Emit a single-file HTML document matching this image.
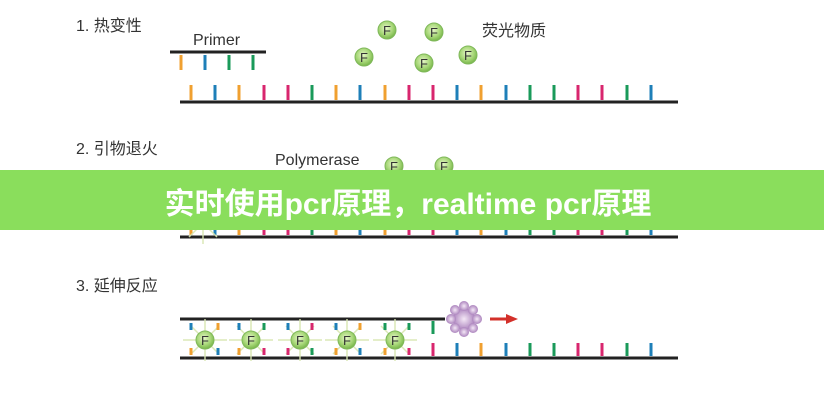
<!DOCTYPE html>
<html><head><meta charset="utf-8"><style>
html,body{margin:0;padding:0;background:#fff;}
svg{display:block;}
</style></head><body>
<svg width="824" height="400" xmlns="http://www.w3.org/2000/svg" font-family="Liberation Sans, Noto Sans CJK SC, sans-serif">
<defs>
<radialGradient id="fg" cx="45%" cy="40%" r="60%"><stop offset="0" stop-color="#e6f6c8"/><stop offset="0.6" stop-color="#a9d87a"/><stop offset="1" stop-color="#78b64a"/></radialGradient>
<radialGradient id="pg" cx="50%" cy="50%" r="55%"><stop offset="0" stop-color="#f4e8f6"/><stop offset="1" stop-color="#a57ab8"/></radialGradient>
<g id="F"><circle r="9" fill="url(#fg)" stroke="#7fb85a" stroke-width="1"/><text y="5" text-anchor="middle" font-size="13" fill="#333">F</text></g>
<g id="star" stroke="#d8e6b0" stroke-width="1.5" opacity="0.9"><line x1="-22" y1="0" x2="22" y2="0"/><line x1="0" y1="-21" x2="0" y2="21"/><line x1="-14" y1="-14" x2="14" y2="14"/><line x1="-14" y1="14" x2="14" y2="-14"/></g>
</defs>
<g font-size="16" fill="#333">
<text x="76" y="31">1. 热变性</text>
<text x="76" y="154">2. 引物退火</text>
<text x="76" y="291">3. 延伸反应</text>
</g>
<!-- Row 1 -->
<text x="193" y="45" font-size="16" fill="#333">Primer</text>
<line x1="170" y1="52" x2="266" y2="52" stroke="#222" stroke-width="3"/>
<g stroke-width="3"><line x1="181" y1="55" x2="181" y2="70" stroke="#f0a030"/><line x1="205" y1="55" x2="205" y2="70" stroke="#1e7fb8"/><line x1="229" y1="55" x2="229" y2="70" stroke="#1a9a5a"/><line x1="253" y1="55" x2="253" y2="70" stroke="#1a9a5a"/></g>
<text x="482" y="36" font-size="16" fill="#333">荧光物质</text>
<use href="#F" x="387" y="30"/><use href="#F" x="434" y="32"/><use href="#F" x="364" y="57"/><use href="#F" x="424" y="63"/><use href="#F" x="468" y="55"/>
<line x1="180" y1="102" x2="678" y2="102" stroke="#222" stroke-width="3"/>
<g stroke-width="3" id="ticks1">
<line x1="191" y1="85" x2="191" y2="100" stroke="#f0a030"/><line x1="215" y1="85" x2="215" y2="100" stroke="#1e7fb8"/><line x1="239" y1="85" x2="239" y2="100" stroke="#f0a030"/><line x1="264" y1="85" x2="264" y2="100" stroke="#d8266e"/><line x1="288" y1="85" x2="288" y2="100" stroke="#d8266e"/><line x1="312" y1="85" x2="312" y2="100" stroke="#1a9a5a"/><line x1="336" y1="85" x2="336" y2="100" stroke="#f0a030"/><line x1="360" y1="85" x2="360" y2="100" stroke="#1e7fb8"/><line x1="385" y1="85" x2="385" y2="100" stroke="#f0a030"/><line x1="409" y1="85" x2="409" y2="100" stroke="#d8266e"/><line x1="433" y1="85" x2="433" y2="100" stroke="#d8266e"/><line x1="457" y1="85" x2="457" y2="100" stroke="#1e7fb8"/><line x1="481" y1="85" x2="481" y2="100" stroke="#f0a030"/><line x1="506" y1="85" x2="506" y2="100" stroke="#1e7fb8"/><line x1="530" y1="85" x2="530" y2="100" stroke="#1a9a5a"/><line x1="554" y1="85" x2="554" y2="100" stroke="#1a9a5a"/><line x1="578" y1="85" x2="578" y2="100" stroke="#d8266e"/><line x1="602" y1="85" x2="602" y2="100" stroke="#d8266e"/><line x1="627" y1="85" x2="627" y2="100" stroke="#1a9a5a"/><line x1="651" y1="85" x2="651" y2="100" stroke="#1e7fb8"/>
</g>
<!-- Row 2 -->
<text x="275" y="165" font-size="16" fill="#333">Polymerase</text>
<use href="#F" x="394" y="166"/><use href="#F" x="444" y="166"/>
<use href="#ticks1" transform="translate(0,135)"/>
<line x1="180" y1="237" x2="678" y2="237" stroke="#222" stroke-width="3"/>
<use href="#star" x="203" y="223"/>
<!-- banner -->
<rect x="0" y="170" width="824" height="60" fill="#8ade5c"/>
<text x="408" y="214" text-anchor="middle" font-size="30" font-weight="bold" fill="#fff">实时使用pcr原理，realtime pcr原理</text>
<!-- Row 3 -->
<line x1="180" y1="319" x2="445" y2="319" stroke="#222" stroke-width="3"/>
<line x1="180" y1="358" x2="678" y2="358" stroke="#222" stroke-width="3"/>
<g stroke-width="3">
<line x1="433" y1="321" x2="433" y2="334" stroke="#1a9a5a"/>
<line x1="433" y1="343" x2="433" y2="356" stroke="#d8266e"/><line x1="457" y1="343" x2="457" y2="356" stroke="#1e7fb8"/><line x1="481" y1="343" x2="481" y2="356" stroke="#f0a030"/><line x1="506" y1="343" x2="506" y2="356" stroke="#1e7fb8"/><line x1="530" y1="343" x2="530" y2="356" stroke="#1a9a5a"/><line x1="554" y1="343" x2="554" y2="356" stroke="#1a9a5a"/><line x1="578" y1="343" x2="578" y2="356" stroke="#d8266e"/><line x1="602" y1="343" x2="602" y2="356" stroke="#d8266e"/><line x1="627" y1="343" x2="627" y2="356" stroke="#1a9a5a"/><line x1="651" y1="343" x2="651" y2="356" stroke="#1e7fb8"/>
</g>
<g>
<use href="#star" x="205" y="340"/><use href="#star" x="251" y="340"/><use href="#star" x="300" y="340"/><use href="#star" x="347" y="340"/><use href="#star" x="395" y="340"/>
</g>
<g stroke-width="3">
<line x1="191" y1="323" x2="191" y2="330" stroke="#1e7fb8"/><line x1="218" y1="323" x2="218" y2="330" stroke="#f0a030"/><line x1="239" y1="323" x2="239" y2="330" stroke="#1e7fb8"/><line x1="264" y1="323" x2="264" y2="330" stroke="#1a9a5a"/><line x1="288" y1="323" x2="288" y2="330" stroke="#1e7fb8"/><line x1="312" y1="323" x2="312" y2="330" stroke="#d8266e"/><line x1="336" y1="323" x2="336" y2="330" stroke="#1e7fb8"/><line x1="360" y1="323" x2="360" y2="330" stroke="#f0a030"/><line x1="385" y1="323" x2="385" y2="330" stroke="#1a9a5a"/><line x1="409" y1="323" x2="409" y2="330" stroke="#1a9a5a"/>
<line x1="191" y1="348" x2="191" y2="355" stroke="#f0a030"/><line x1="218" y1="348" x2="218" y2="355" stroke="#1e7fb8"/><line x1="239" y1="348" x2="239" y2="355" stroke="#f0a030"/><line x1="264" y1="348" x2="264" y2="355" stroke="#d8266e"/><line x1="288" y1="348" x2="288" y2="355" stroke="#d8266e"/><line x1="312" y1="348" x2="312" y2="355" stroke="#1a9a5a"/><line x1="336" y1="348" x2="336" y2="355" stroke="#f0a030"/><line x1="360" y1="348" x2="360" y2="355" stroke="#1e7fb8"/><line x1="385" y1="348" x2="385" y2="355" stroke="#f0a030"/><line x1="409" y1="348" x2="409" y2="355" stroke="#d8266e"/>
</g>
<use href="#F" x="205" y="340"/><use href="#F" x="251" y="340"/><use href="#F" x="300" y="340"/><use href="#F" x="347" y="340"/><use href="#F" x="395" y="340"/>
<g fill="url(#pg)">
<circle cx="464" cy="319" r="11"/>
<circle cx="464" cy="306" r="5"/><circle cx="464" cy="332" r="5"/><circle cx="451" cy="319" r="5"/><circle cx="477" cy="319" r="5"/>
<circle cx="455" cy="310" r="5"/><circle cx="473" cy="310" r="5"/><circle cx="455" cy="328" r="5"/><circle cx="473" cy="328" r="5"/>
</g>
<line x1="490" y1="319" x2="508" y2="319" stroke="#d3302a" stroke-width="3"/>
<polygon points="506,314 518,319 506,324" fill="#d3302a"/>
</svg>
</body></html>
